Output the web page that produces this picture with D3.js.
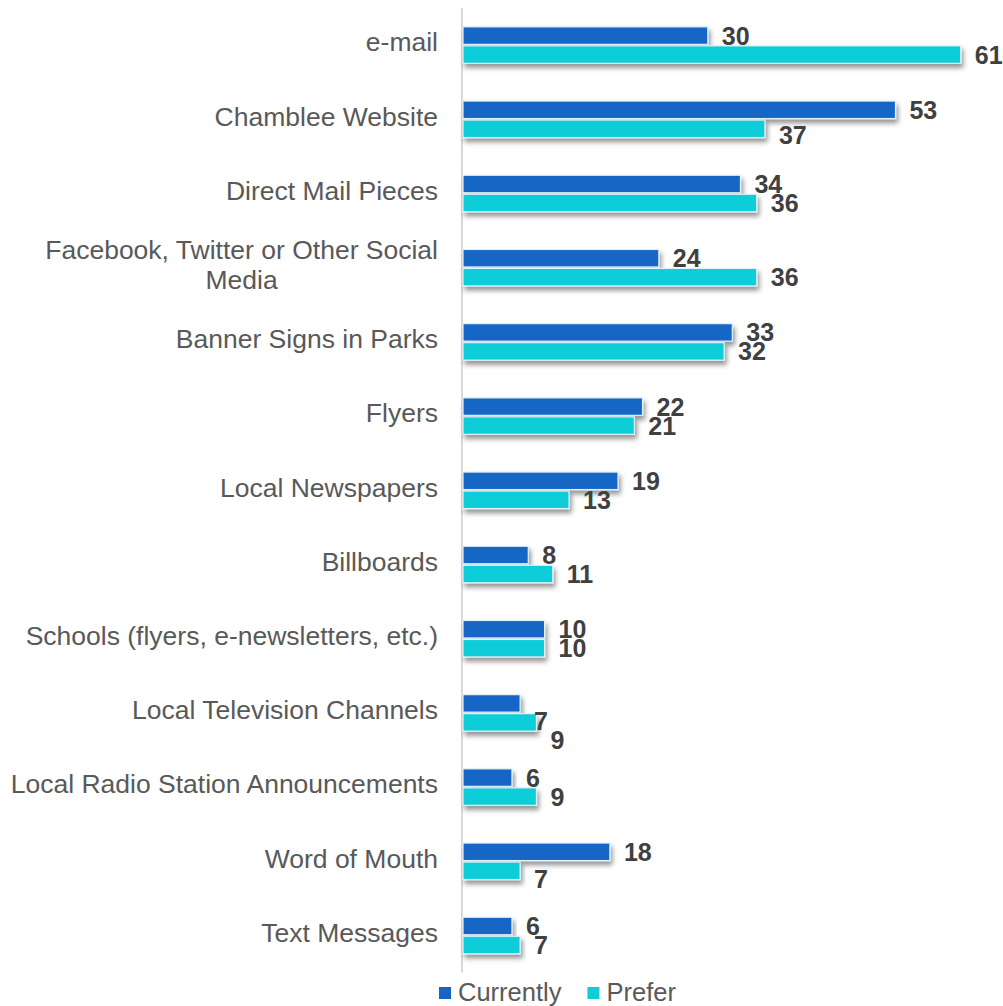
<!DOCTYPE html>
<html>
<head>
<meta charset="utf-8">
<script src="https://cdn.jsdelivr.net/npm/d3@7"></script>
<style>
  html, body { margin: 0; padding: 0; background: #ffffff; }
  svg { display: block; }
  text { font-family: "Liberation Sans", Arial, Helvetica, sans-serif; }
</style>
</head>
<body>
<svg id="chart" width="1003" height="1006"></svg>
<script>
// Communication channels: how residents hear about things now vs. how they'd prefer to
const categories = [
  "e-mail",
  "Chamblee Website",
  "Direct Mail Pieces",
  "Facebook, Twitter or Other Social Media",
  "Banner Signs in Parks",
  "Flyers",
  "Local Newspapers",
  "Billboards",
  "Schools (flyers, e-newsletters, etc.)",
  "Local Television Channels",
  "Local Radio Station Announcements",
  "Word of Mouth",
  "Text Messages"
];
const seriesNames = ["Currently", "Prefer"];
const currentlyValues = [30, 53, 34, 24, 33, 22, 19, 8, 10, 7, 6, 18, 6];
const preferValues    = [61, 37, 36, 36, 32, 21, 13, 11, 10, 9, 9, 7, 7];

// category labels that wrap onto two lines
const wrappedLabels = {
  "Facebook, Twitter or Other Social Media": ["Facebook, Twitter or Other Social", "Media"]
};

// value labels that were dragged off their default spot (pixels, downward)
const labelNudge = {
  "Chamblee Website|Prefer": 6,
  "Local Television Channels|Currently": 18,
  "Local Television Channels|Prefer": 18,
  "Word of Mouth|Prefer": 8
};

const colors = { "Currently": "#1366c6", "Prefer": "#0fcdd8" };

const svg = d3.select("#chart");

const axisX = 463;
const x = d3.scaleLinear().domain([0, 65]).range([axisX, axisX + 65 * 8.16]);
const y = d3.scaleBand().domain(categories).range([8, 8 + 13 * 74.2]);
const barH = 17.5;
const gap = 1.5;

// soft drop shadow under the bars
const defs = svg.append("defs");
const f = defs.append("filter").attr("id", "shadow")
  .attr("x", "-5%").attr("y", "-40%").attr("width", "115%").attr("height", "220%");
f.append("feDropShadow")
  .attr("dx", 2).attr("dy", 4).attr("stdDeviation", 2.4)
  .attr("flood-color", "#000").attr("flood-opacity", 0.42);

// value axis baseline
svg.append("line")
  .attr("x1", axisX - 1).attr("x2", axisX - 1)
  .attr("y1", y.range()[0]).attr("y2", y.range()[1])
  .attr("stroke", "#d9d9d9").attr("stroke-width", 2);

const rows = categories.map((c, i) => ({
  cat: c,
  vals: [
    { series: "Currently", value: currentlyValues[i] },
    { series: "Prefer", value: preferValues[i] }
  ]
}));

const center = c => y(c) + y.bandwidth() / 2;
const barTop = (c, s) => s === "Currently" ? center(c) - gap / 2 - barH : center(c) + gap / 2;

const groups = svg.append("g").selectAll("g.row")
  .data(rows).join("g").attr("class", "row");

groups.selectAll("rect")
  .data(d => d.vals.map(v => ({ ...v, cat: d.cat })))
  .join("rect")
  .attr("x", x(0))
  .attr("y", d => barTop(d.cat, d.series))
  .attr("width", d => x(d.value) - x(0))
  .attr("height", barH)
  .attr("fill", d => colors[d.series])
  .attr("stroke", "#e3f1fb")
  .attr("stroke-width", 1.2)
  .attr("filter", "url(#shadow)");

// value labels
groups.selectAll("text.val")
  .data(d => d.vals.map(v => ({ ...v, cat: d.cat })))
  .join("text")
  .attr("class", "val")
  .attr("x", d => x(d.value) + 14)
  .attr("y", d => barTop(d.cat, d.series) + barH / 2 + (labelNudge[d.cat + "|" + d.series] || 0))
  .attr("dy", "0.36em")
  .attr("font-size", 25)
  .attr("font-weight", "bold")
  .attr("fill", "#404040")
  .text(d => d.value);

// category labels, right-aligned to the axis; wrapped lines are centred in their block
const labelRight = 438;
const catG = svg.append("g");
categories.forEach(c => {
  const lines = wrappedLabels[c] || [c];
  const lh = 30;
  const t = catG.append("text")
    .attr("font-size", 26.5)
    .attr("fill", "#595959");
  const spans = lines.map((ln, i) => t.append("tspan")
    .attr("y", center(c) - 3 + (i - (lines.length - 1) / 2) * lh)
    .attr("dy", "0.35em")
    .text(ln));
  const widths = spans.map(s => s.node().getComputedTextLength());
  const blockW = d3.max(widths);
  spans.forEach((s, i) => {
    s.attr("x", labelRight - blockW + (blockW - widths[i]) / 2);
  });
});

// legend
const legend = svg.append("g").attr("transform", "translate(439, 992)");
let lx = 0;
seriesNames.forEach(s => {
  const g = legend.append("g").attr("transform", `translate(${lx},0)`);
  g.append("rect").attr("x", 0).attr("y", -5).attr("width", 12).attr("height", 12)
    .attr("fill", colors[s]);
  const t = g.append("text").attr("x", 19).attr("y", 0).attr("dy", "0.34em")
    .attr("font-size", 25.5).attr("fill", "#595959").text(s);
  lx += 19 + t.node().getComputedTextLength() + 26;
});
</script>
</body>
</html>
